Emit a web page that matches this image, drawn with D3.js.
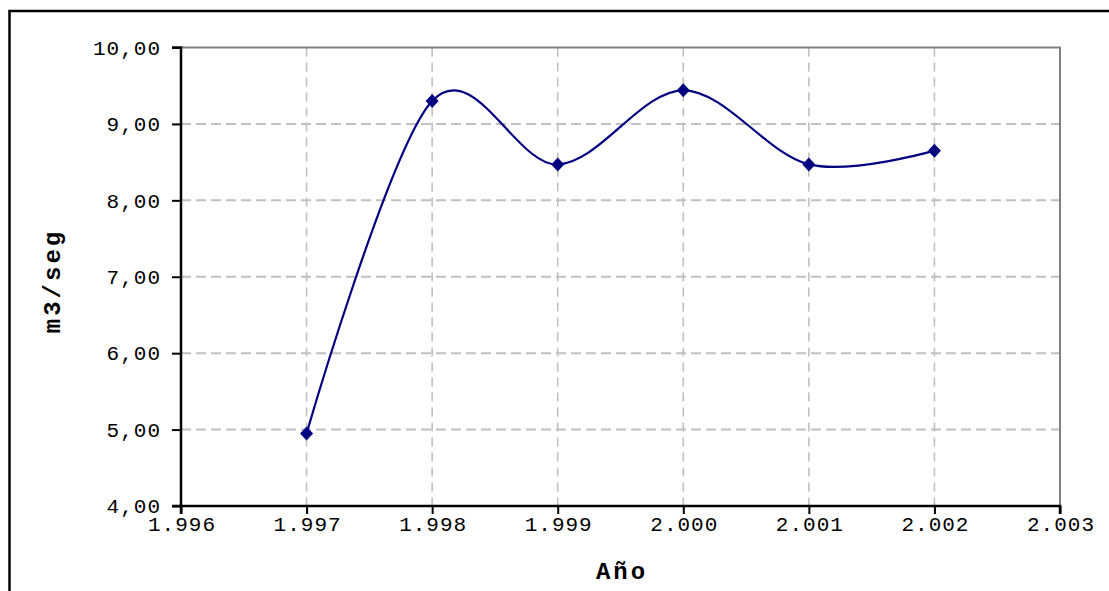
<!DOCTYPE html>
<html>
<head>
<meta charset="utf-8">
<script src="https://cdn.jsdelivr.net/npm/d3@7"></script>
<style>
  html, body { margin: 0; padding: 0; background: #fff; }
  svg { display: block; }
  .tick-label { font-family: "Liberation Mono", "DejaVu Sans Mono", monospace; font-size: 21px; letter-spacing: 1px; fill: #000; }
  .axis-title { font-family: "Liberation Mono", "DejaVu Sans Mono", monospace; font-size: 24px; letter-spacing: 3px; font-weight: bold; fill: #000; }
</style>
</head>
<body>
<svg id="chart" width="1109" height="591"></svg>
<script>
// Caudal medio anual (m3/seg)
const years = [1997, 1998, 1999, 2000, 2001, 2002];
const caudal = [4.95, 9.30, 8.47, 9.44, 8.47, 8.65];
const xTicks = [1996, 1997, 1998, 1999, 2000, 2001, 2002, 2003];
const yTicks = [4, 5, 6, 7, 8, 9, 10];
const xTitle = "Año";
const yTitle = "m3/seg";

const svg = d3.select("#chart");
const plot = { left: 181, right: 1060, top: 47.5, bottom: 506 };

const x = d3.scaleLinear().domain([1996, 2003]).range([plot.left, plot.right]);
const y = d3.scaleLinear().domain([4, 10]).range([plot.bottom, plot.top]);

// Spanish number formats: thousands "." and decimal ","
const fmtYear = v => (v / 1000).toFixed(3);
const fmtVal = v => d3.format(".2f")(v).replace(".", ",");

// Outer chart frame (left and top edges visible)
svg.append("rect")
  .attr("x", 9.5).attr("y", 11)
  .attr("width", 1300).attr("height", 800)
  .attr("fill", "none").attr("stroke", "#000").attr("stroke-width", 2.5);

// Gridlines
svg.append("g").selectAll("line")
  .data(yTicks.filter(v => v > 4 && v < 10))
  .join("line")
  .attr("x1", plot.left).attr("x2", plot.right)
  .attr("y1", d => y(d)).attr("y2", d => y(d))
  .attr("stroke", "#c0c0c0").attr("stroke-width", 2)
  .attr("stroke-dasharray", "10,5");

svg.append("g").selectAll("line")
  .data(xTicks.filter(v => v > 1996 && v < 2003))
  .join("line")
  .attr("x1", d => x(d)).attr("x2", d => x(d))
  .attr("y1", plot.top).attr("y2", plot.bottom)
  .attr("stroke", "#c0c0c0").attr("stroke-width", 1.6)
  .attr("stroke-dasharray", "9,6");

// Plot area border (top and right)
svg.append("path")
  .attr("d", `M${plot.left},${y(10)}H${x(2003)}V${plot.bottom}`)
  .attr("fill", "none").attr("stroke", "#808080").attr("stroke-width", 2);

// Axes
const xAxis = d3.axisBottom(x).tickValues(xTicks).tickSize(8).tickPadding(2)
  .tickFormat(fmtYear);
const yAxis = d3.axisLeft(y).tickValues(yTicks).tickSize(9).tickPadding(11)
  .tickFormat(fmtVal);

const gx = svg.append("g").attr("transform", `translate(0,${plot.bottom})`).call(xAxis);
const gy = svg.append("g").attr("transform", `translate(${plot.left},0)`).call(yAxis);

[gx, gy].forEach(g => {
  g.select(".domain").attr("stroke", "#000").attr("stroke-width", 2.5);
  g.selectAll(".tick line").attr("stroke", "#000").attr("stroke-width", 2);
  g.selectAll(".tick text").attr("class", "tick-label").attr("font-family", null).attr("font-size", null);
});
gx.select(".domain").attr("d", `M${plot.left},8V0H${plot.right}V8`);
gy.select(".domain").attr("d", `M-9,${plot.bottom}H0V${plot.top}H-9`);
// keep centred labels centred despite the trailing letter spacing
gx.selectAll(".tick text").attr("dx", "0.5px");

// Smoothed series line
const line = d3.line()
  .x((d, i) => x(years[i]))
  .y(d => y(d))
  .curve(d3.curveCardinal.tension(0));

svg.append("path")
  .datum(caudal)
  .attr("d", line)
  .attr("fill", "none")
  .attr("stroke", "#000080")
  .attr("stroke-width", 2.2)
  .attr("stroke-linejoin", "round");

// Diamond markers
svg.append("g").selectAll("path")
  .data(caudal)
  .join("path")
  .attr("transform", (d, i) => `translate(${x(years[i])},${y(d)})`)
  .attr("d", "M0,-7L6.5,0L0,7L-6.5,0Z")
  .attr("fill", "#000080");

// Axis titles
svg.append("text")
  .attr("class", "axis-title")
  .attr("x", 622).attr("y", 579)
  .attr("text-anchor", "middle")
  .text(xTitle);

svg.append("text")
  .attr("class", "axis-title")
  .attr("transform", "translate(60,281) rotate(-90)")
  .attr("text-anchor", "middle")
  .text(yTitle);
</script>
</body>
</html>
